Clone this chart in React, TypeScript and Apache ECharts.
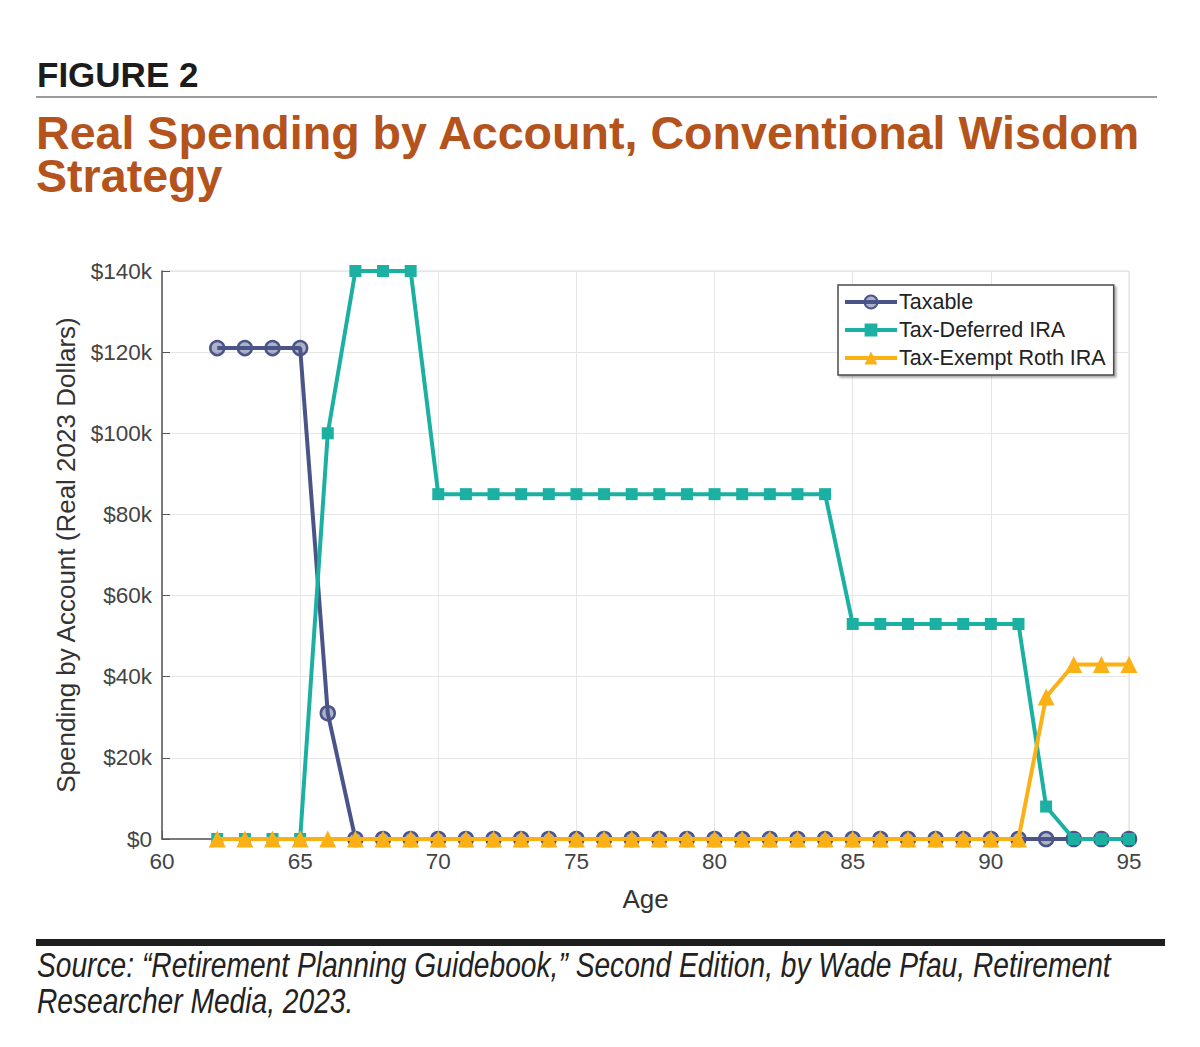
import React, { useEffect, useRef } from "react";
import * as echarts from "echarts";

const ages = [62, 63, 64, 65, 66, 67, 68, 69, 70, 71, 72, 73, 74, 75, 76, 77, 78, 79, 80, 81, 82, 83, 84, 85, 86, 87, 88, 89, 90, 91, 92, 93, 94, 95];
// values in thousands of real 2023 dollars
const taxable = [121, 121, 121, 121, 31, 0, 0, 0, 0, 0, 0, 0, 0, 0, 0, 0, 0, 0, 0, 0, 0, 0, 0, 0, 0, 0, 0, 0, 0, 0, 0, 0, 0, 0];
const taxDeferred = [0, 0, 0, 0, 100, 140, 140, 140, 85, 85, 85, 85, 85, 85, 85, 85, 85, 85, 85, 85, 85, 85, 85, 53, 53, 53, 53, 53, 53, 53, 8, 0, 0, 0];
const roth = [0, 0, 0, 0, 0, 0, 0, 0, 0, 0, 0, 0, 0, 0, 0, 0, 0, 0, 0, 0, 0, 0, 0, 0, 0, 0, 0, 0, 0, 0, 35, 43, 43, 43];
const seriesNames = ["Taxable", "Tax-Deferred IRA", "Tax-Exempt Roth IRA"];
const seriesColors = ["#4b5488", "#1bb0a1", "#fbb116"];
const xTicks = { min: 60, max: 95, interval: 5 };
const yTicks = { min: 0, max: 140000, interval: 20000 };

const FONT = "'Liberation Sans', Arial, Helvetica, sans-serif";

const yLabel = (v: number) => (v === 0 ? "$0" : "$" + v / 1000 + "k");

export default function App() {
  const ref = useRef<HTMLDivElement>(null);
  useEffect(() => {
    document.body.style.margin = "0";
    const chart = echarts.init(ref.current!, null, { renderer: "svg" });
    const toPairs = (arr: number[]) => ages.map((a, i) => [a, arr[i] * 1000]);
    const symbols = ["circle", "rect", "triangle"];
    const sizes = [14, 12, 17];
    const datasets = [taxable, taxDeferred, roth];
    chart.setOption({
      animation: false,
      backgroundColor: "#fff",
      graphic: [
        { type: "text", left: 37, top: 57, style: { text: "FIGURE 2", font: `bold 35px ${FONT}`, fill: "#1c1c1c" } },
        { type: "line", shape: { x1: 36, y1: 97, x2: 1157, y2: 97 }, style: { stroke: "#9a9a9a", lineWidth: 2 } },
        {
          type: "text",
          left: 36,
          top: 109,
          style: { text: "Real Spending by Account, Conventional Wisdom\nStrategy", font: `bold 46.6px ${FONT}`, lineHeight: 43, fill: "#b4531c" },
        },
        { type: "rect", shape: { x: 36, y: 939, width: 1129, height: 7 }, style: { fill: "#1e1e1e" } },
        {
          type: "text",
          x: 37,
          y: 947,
          scaleX: 0.805,
          style: {
            text: "Source: \u201cRetirement Planning Guidebook,\u201d Second Edition, by Wade Pfau, Retirement\nResearcher Media, 2023.",
            font: `italic 35px ${FONT}`,
            lineHeight: 36,
            fill: "#222",
            verticalAlign: "top",
          },
        },
      ],
      grid: { left: 162, top: 271, right: 71, bottom: 208, show: true, borderColor: "#dcdcdc", borderWidth: 1, backgroundColor: "transparent" },
      legend: {
        orient: "vertical",
        left: 838,
        top: 285,
        itemWidth: 52,
        itemHeight: 16,
        itemGap: 6,
        padding: [6, 8, 6, 5],
        borderColor: "#4a4a4a",
        borderWidth: 1.5,
        backgroundColor: "#fff",
        shadowColor: "rgba(0,0,0,0.35)",
        shadowBlur: 2,
        shadowOffsetX: 2,
        shadowOffsetY: 2,
        lineStyle: { width: 4 },
        textStyle: { fontSize: 21.5, color: "#222", fontFamily: FONT, padding: [0, 0, 0, -3] },
        data: seriesNames,
      },
      xAxis: {
        type: "value",
        ...xTicks,
        name: "Age",
        nameLocation: "middle",
        nameGap: 47,
        nameTextStyle: { fontSize: 26, color: "#333", fontFamily: FONT },
        axisLine: { show: true, lineStyle: { color: "#555", width: 1.5 } },
        axisTick: { show: true, inside: true, length: 8, lineStyle: { color: "#555" } },
        axisLabel: { fontSize: 22.5, color: "#444", fontFamily: FONT, margin: 11 },
        splitLine: { show: true, lineStyle: { color: "#e6e6e6", width: 1 } },
      },
      yAxis: {
        type: "value",
        ...yTicks,
        name: "Spending by Account (Real 2023 Dollars)",
        nameLocation: "middle",
        nameGap: 83,
        nameTextStyle: { fontSize: 26, color: "#333", fontFamily: FONT },
        axisLine: { show: true, lineStyle: { color: "#555", width: 1.5 } },
        axisTick: { show: true, inside: true, length: 8, lineStyle: { color: "#555" } },
        axisLabel: { fontSize: 22.5, color: "#444", fontFamily: FONT, margin: 10, formatter: yLabel },
        splitLine: { show: true, lineStyle: { color: "#e6e6e6", width: 1 } },
      },
      series: datasets.map((d, i) => ({
        name: seriesNames[i],
        type: "line",
        data: toPairs(d),
        symbol: symbols[i],
        symbolSize: sizes[i],
        showAllSymbol: true,
        lineStyle: { color: seriesColors[i], width: 4 },
        itemStyle:
          i === 0
            ? { color: "rgba(75,84,136,0.45)", borderColor: seriesColors[i], borderWidth: 2.5 }
            : { color: seriesColors[i], borderWidth: 0 },
        emphasis: { disabled: true },
        z: 2 + i,
      })),
    });
    return () => chart.dispose();
  }, []);
  return <div ref={ref} style={{ width: 1200, height: 1047 }} />;
}
